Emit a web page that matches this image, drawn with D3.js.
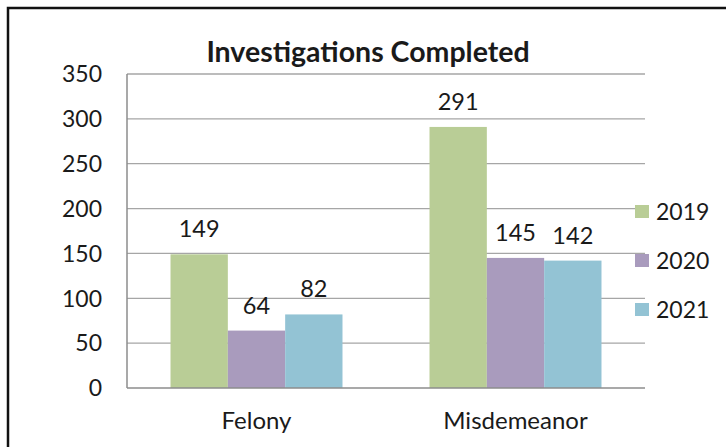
<!DOCTYPE html>
<html>
<head>
<meta charset="utf-8">
<script src="https://cdn.jsdelivr.net/npm/d3@7"></script>
<style>
  body { margin: 0; background: #fff; }
  text { font-family: Lato, "Open Sans", sans-serif; fill: #1a1a1a; }
</style>
</head>
<body>
<svg id="chart"></svg>
<script>
const categories = ["Felony", "Misdemeanor"];
const years = ["2019", "2020", "2021"];
const values2019 = [149, 291];
const values2020 = [64, 145];
const values2021 = [82, 142];
const yTicks = [0, 50, 100, 150, 200, 250, 300, 350];
const colors = ["#b9cd96", "#a99bbd", "#93c3d4"];

const series = [values2019, values2020, values2021];
const width = 726, height = 447;
const margin = {top: 74, left: 127, right: 81, bottom: 59};

const svg = d3.select("#chart").attr("width", width).attr("height", height);

// frame: top and left edge only
svg.append("path")
    .attr("d", `M8,${height} V8 H${width}`)
    .attr("fill", "none")
    .attr("stroke", "#111")
    .attr("stroke-width", 2.5);

const x0 = d3.scaleBand()
    .domain(categories)
    .range([margin.left, width - margin.right])
    .paddingInner(0.336)
    .paddingOuter(0.168);

const x1 = d3.scaleBand()
    .domain(years)
    .range([0, x0.bandwidth()]);

const y = d3.scaleLinear()
    .domain([0, 350])
    .range([height - margin.bottom, margin.top]);

// gridlines
svg.append("g")
    .selectAll("line")
    .data(yTicks.slice(1))
    .join("line")
    .attr("x1", margin.left)
    .attr("x2", width - margin.right)
    .attr("y1", d => y(d))
    .attr("y2", d => y(d))
    .attr("stroke", "#a6a6a6")
    .attr("stroke-width", 1.3);

// y axis labels
svg.append("g")
    .selectAll("text")
    .data(yTicks)
    .join("text")
    .attr("x", 102)
    .attr("y", d => y(d))
    .attr("dy", "0.36em")
    .attr("text-anchor", "end")
    .attr("font-size", 23)
    .text(d => d);

// bars
const groups = svg.append("g")
    .selectAll("g")
    .data(categories)
    .join("g")
    .attr("transform", d => `translate(${x0(d)},0)`);

groups.selectAll("rect")
    .data((c, i) => years.map((yr, j) => ({year: yr, value: series[j][i], color: colors[j]})))
    .join("rect")
    .attr("x", d => x1(d.year))
    .attr("width", x1.bandwidth())
    .attr("y", d => y(d.value))
    .attr("height", d => y(0) - y(d.value))
    .attr("fill", d => d.color);

groups.selectAll("text")
    .data((c, i) => years.map((yr, j) => ({year: yr, value: series[j][i]})))
    .join("text")
    .attr("x", d => x1(d.year) + x1.bandwidth() / 2)
    .attr("y", d => y(d.value) - 17)
    .attr("text-anchor", "middle")
    .attr("font-size", 23.5)
    .text(d => d.value);

// axis lines
svg.append("line")
    .attr("x1", margin.left).attr("x2", margin.left)
    .attr("y1", margin.top).attr("y2", y(0))
    .attr("stroke", "#8c8c8c").attr("stroke-width", 1.5);
svg.append("line")
    .attr("x1", margin.left).attr("x2", width - margin.right)
    .attr("y1", y(0)).attr("y2", y(0))
    .attr("stroke", "#8c8c8c").attr("stroke-width", 1.5);

// category labels
svg.append("g")
    .selectAll("text")
    .data(categories)
    .join("text")
    .attr("x", d => x0(d) + x0.bandwidth() / 2)
    .attr("y", 429)
    .attr("text-anchor", "middle")
    .attr("font-size", 24)
    .text(d => d);

// title
svg.append("text")
    .attr("x", 368)
    .attr("y", 62)
    .attr("text-anchor", "middle")
    .attr("font-size", 28.5)
    .attr("font-weight", "bold")
    .attr("fill", "#000")
    .text("Investigations Completed");

// legend
const legend = svg.append("g")
    .selectAll("g")
    .data(years)
    .join("g")
    .attr("transform", (d, i) => `translate(635,${212 + i * 49})`);

legend.append("rect")
    .attr("x", 0).attr("y", -7)
    .attr("width", 14).attr("height", 13)
    .attr("fill", (d, i) => colors[i]);

legend.append("text")
    .attr("x", 21)
    .attr("y", 0)
    .attr("dy", "0.36em")
    .attr("font-size", 23)
    .text(d => d);
</script>
</body>
</html>
